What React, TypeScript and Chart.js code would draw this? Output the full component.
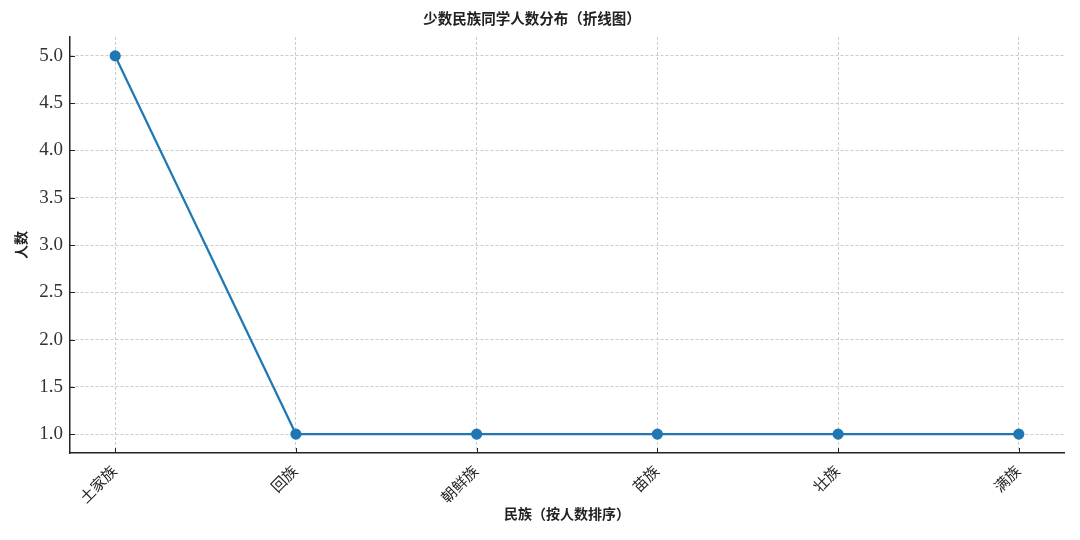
import React, { useEffect, useRef } from "react";
import { Chart, registerables } from "chart.js";

Chart.register(...registerables);

const categories = ["土家族", "回族", "朝鲜族", "苗族", "壮族", "满族"];
const counts = [5, 1, 1, 1, 1, 1];
const yTicks = [1.0, 1.5, 2.0, 2.5, 3.0, 3.5, 4.0, 4.5, 5.0];

const chartTitle = "少数民族同学人数分布（折线图）";
const xTitle = "民族（按人数排序）";
const yTitle = "人数";

const FONT = "'Liberation Serif', 'Noto Sans CJK SC', serif";

const inwardTicks = {
  id: "inwardTicks",
  afterDraw(chart: any) {
    const ctx = chart.ctx;
    const xs = chart.scales.x;
    const ys = chart.scales.y;
    const area = chart.chartArea;
    ctx.save();
    ctx.strokeStyle = "#222";
    ctx.lineWidth = 1;
    xs.ticks.forEach((t: any) => {
      const px = Math.round(xs.getPixelForValue(t.value)) + 0.5;
      ctx.beginPath();
      ctx.moveTo(px, area.bottom);
      ctx.lineTo(px, area.bottom - 5);
      ctx.stroke();
    });
    ys.ticks.forEach((t: any) => {
      const py = Math.round(ys.getPixelForValue(t.value)) + 0.5;
      ctx.beginPath();
      ctx.moveTo(area.left, py);
      ctx.lineTo(area.left + 5, py);
      ctx.stroke();
    });
    ctx.restore();
  },
};

export default function App() {
  const ref = useRef<HTMLCanvasElement>(null);
  useEffect(() => {
    if (!ref.current) return;
    const chart = new Chart(ref.current, {
      type: "line",
      data: {
        datasets: [
          {
            data: counts.map((v, i) => ({ x: i, y: v })),
            borderColor: "#1f77b4",
            backgroundColor: "#1f77b4",
            borderWidth: 2.2,
            pointRadius: 4.5,
            pointHoverRadius: 4.5,
            pointBackgroundColor: "#1f77b4",
            pointBorderColor: "#1f77b4",
            tension: 0,
          },
        ],
      },
      options: {
        animation: false,
        responsive: false,
        devicePixelRatio: 1,
        layout: { padding: { left: 0, right: 16, top: 0, bottom: 0 } },
        plugins: {
          legend: { display: false },
          tooltip: { enabled: false },
          title: {
            display: true,
            text: chartTitle,
            color: "#222",
            font: { family: FONT, size: 14.5, weight: "bold" },
            padding: { top: 12, bottom: 7.6 },
          },
        },
        scales: {
          x: {
            type: "linear",
            min: -0.25,
            max: 5.25,
            afterBuildTicks: (scale: any) => {
              scale.ticks = categories.map((_, i) => ({ value: i }));
            },
            afterFit: (scale: any) => {
              scale.height = 87;
            },
            ticks: {
              autoSkip: false,
              maxRotation: 45,
              minRotation: 45,
              padding: 10,
              color: "#222",
              font: { family: FONT, size: 15 },
              callback: (v: any) => categories[Number(v)] ?? "",
            },
            grid: {
              color: "#cccccc",
              lineWidth: 1,
              drawTicks: false,
            },
            border: { display: true, color: "#222", width: 1.5, dash: [3, 2] },
            title: {
              display: true,
              text: xTitle,
              color: "#222",
              font: { family: FONT, size: 14, weight: "bold" },
              padding: { top: 0, bottom: 16 },
            },
          },
          y: {
            type: "linear",
            min: 0.8,
            max: 5.2,
            afterBuildTicks: (scale: any) => {
              scale.ticks = yTicks.map((v) => ({ value: v }));
            },
            afterFit: (scale: any) => {
              scale.width = 70;
            },
            ticks: {
              padding: 7,
              color: "#333",
              font: { family: FONT, size: 19 },
              callback: (v: any) => Number(v).toFixed(1),
            },
            grid: {
              color: "#cccccc",
              lineWidth: 1,
              drawTicks: false,
            },
            border: { display: true, color: "#222", width: 1.5, dash: [3, 2] },
            title: {
              display: true,
              text: yTitle,
              color: "#222",
              font: { family: FONT, size: 14, weight: "bold" },
              padding: { top: 14, bottom: 0 },
            },
          },
        },
      },
      plugins: [inwardTicks],
    } as any);
    return () => chart.destroy();
  }, []);
  return (
    <div style={{ position: "absolute", left: 0, top: 0, width: 1080, height: 540, background: "#fff" }}>
      <canvas ref={ref} width={1080} height={540} style={{ width: 1080, height: 540 }} />
    </div>
  );
}
